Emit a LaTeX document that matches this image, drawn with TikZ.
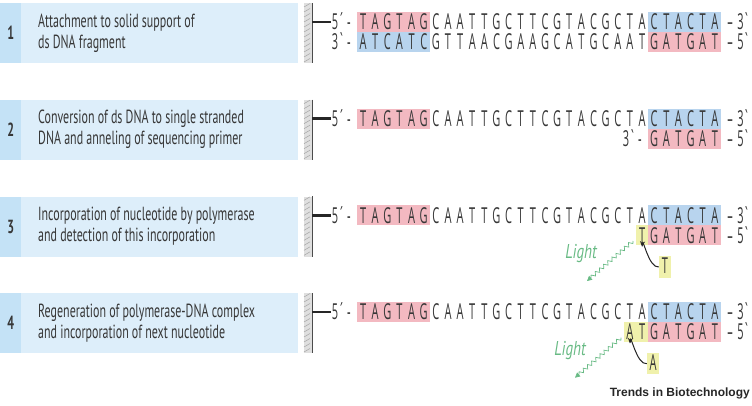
\documentclass[tikz,border=0pt]{standalone}
\usepackage{fontspec}
\setmainfont{Open Sans}
\newfontfamily\txtfont[FakeStretch=0.63]{PT Sans}
\newfontfamily\lightfont[FakeStretch=0.75]{PT Sans}
\newfontfamily\seqfont[FakeStretch=0.5]{Open Sans}
\newfontfamily\logofont{Liberation Sans}
\usetikzlibrary{arrows.meta,decorations.pathmorphing,calc}
\definecolor{panelbg}{RGB}{221,238,250}
\definecolor{numbg}{RGB}{196,226,246}
\definecolor{txtgray}{RGB}{55,55,55}
\definecolor{hlpink}{RGB}{243,185,193}
\definecolor{hlblue}{RGB}{184,212,238}
\definecolor{hlyellow}{RGB}{240,241,172}
\definecolor{lightgreen}{RGB}{104,186,132}
\tikzset{
  sq/.style={inner sep=0pt, text height=15.6pt, text depth=0pt, anchor=center,
    font=\seqfont\fontsize{22}{22}\selectfont, text=txtgray},
  panel/.style={fill=panelbg, inner sep=0pt, minimum width=298pt, minimum height=60pt, anchor=north west},
  numcol/.style={fill=numbg, inner sep=0pt, minimum width=21pt, minimum height=60pt, anchor=north west},
  numtxt/.style={font=\txtfont\bfseries\fontsize{19}{19}\selectfont, text=txtgray},
  desc/.style={anchor=west, align=left, inner sep=0pt, text=txtgray,
    font=\txtfont\fontsize{19}{21}\selectfont},
  wallnode/.style={fill=gray!25, inner sep=0pt, minimum width=8pt, minimum height=60pt, anchor=north west},
  stub/.style={line width=2.4pt, black!85},
  freebase/.style={sq, fill=hlyellow, minimum width=12pt, text depth=2.5pt, inner ysep=1.5pt},
  wave/.style={lightgreen, line width=0.7pt, decorate,
    decoration={snake, amplitude=1.8pt, segment length=5.5pt, post length=4pt},
    -{Triangle[length=5pt,width=5pt]}},
  lighttxt/.style={text=lightgreen, font=\lightfont\itshape\fontsize{20}{20}\selectfont, inner sep=0pt},
  bendarrow/.style={black!85, line width=1pt, -{Stealth[length=5.5pt,width=5pt]}},
}
\newcommand\strand[4]{\foreach \ltr [count=\i from #3] in {#4} {\node[sq] (#1\i) at ({357+12.13*(\i+0.5)},#2) {\ltr};}}
\newcommand\hlbox[4]{\fill[#1] ({357+12.13*#2},#4-10) rectangle ({357+12.13*(#3+1)},#4+10);}
\newcommand\gravemark{\reflectbox{´}}
\begin{document}
\begin{tikzpicture}[x=1pt,y=-1pt]
\useasboundingbox (0,0) rectangle (752,405);
% ---------- left panels ----------
\foreach \r/\t/\la/\lb in {1/3/{Attachment to solid support of}/{ds DNA fragment},
  2/99.67/{Conversion of ds DNA to single stranded}/{DNA and anneling of sequencing primer},
  3/196.33/{Incorporation of nucleotide by polymerase}/{and detection of this incorporation},
  4/293/{Regeneration of polymerase-DNA complex}/{and incorporation of next nucleotide}} {
  \node[panel] (p\r) at (0,\t) {};
  \node[numcol] (c\r) at (0,\t) {};
  \node[numtxt] (n\r) at (c\r.center) {\r};
  \node[desc] (d\r) at (38,\t+30) {\la\\\lb};
  % wall
  \node[wallnode] (w\r) at (304,\t) {};
  \draw[black!70, line width=1.4pt] (w\r.north east) -- (w\r.south east);
  \foreach \k in {0,...,11} {\draw[gray!75, line width=0.45pt] (304,\t+4+5*\k) -- (310,\t+0.5+5*\k);}
}
% ---------- row 1 ----------
\hlbox{hlpink}{0}{5}{22}
\hlbox{hlblue}{24}{29}{22}
\hlbox{hlblue}{0}{5}{42}
\hlbox{hlpink}{24}{29}{42}
\strand{ra}{22}{0}{T,A,G,T,A,G,C,A,A,T,T,G,C,T,T,C,G,T,A,C,G,C,T,A,C,T,A,C,T,A}
\strand{rb}{42}{0}{A,T,C,A,T,C,G,T,T,A,A,C,G,A,A,G,C,A,T,G,C,A,A,T,G,A,T,G,A,T}
\node[sq] (ra5) at (335,22) {5}; \node[sq] at (341.5,22) {´}; \node[sq] at (349,22) {-};
\node[sq] (rb3) at (335,42) {3}; \node[sq] at (341.5,42) {\gravemark}; \node[sq] at (349,42) {-};
\node[sq] at (730,22) {–}; \node[sq] at (740.5,22) {3}; \node[sq] at (746.5,22) {\gravemark};
\node[sq] at (730,42) {–}; \node[sq] at (740.5,42) {5}; \node[sq] at (746.5,42) {\gravemark};
\draw[stub] (w1.east |- ra5.west) -- ([xshift=-1pt]ra5.west);
% ---------- row 2 ----------
\hlbox{hlpink}{0}{5}{118.67}
\hlbox{hlblue}{24}{29}{118.67}
\hlbox{hlpink}{24}{29}{138.67}
\strand{sa}{118.67}{0}{T,A,G,T,A,G,C,A,A,T,T,G,C,T,T,C,G,T,A,C,G,C,T,A,C,T,A,C,T,A}
\strand{sb}{138.67}{24}{G,A,T,G,A,T}
\node[sq] (sa5) at (335,118.67) {5}; \node[sq] at (341.5,118.67) {´}; \node[sq] at (349,118.67) {-};
\node[sq] at (626,138.67) {3}; \node[sq] at (632.5,138.67) {\gravemark}; \node[sq] at (640,138.67) {-};
\node[sq] at (730,118.67) {–}; \node[sq] at (740.5,118.67) {3}; \node[sq] at (746.5,118.67) {\gravemark};
\node[sq] at (730,138.67) {–}; \node[sq] at (740.5,138.67) {5}; \node[sq] at (746.5,138.67) {\gravemark};
\draw[stub] (w2.east |- sa5.west) -- ([xshift=-1pt]sa5.west);
% ---------- row 3 ----------
\hlbox{hlpink}{0}{5}{215.33}
\hlbox{hlblue}{24}{29}{215.33}
\hlbox{hlyellow}{23}{23}{235.33}
\hlbox{hlpink}{24}{29}{235.33}
\strand{ta}{215.33}{0}{T,A,G,T,A,G,C,A,A,T,T,G,C,T,T,C,G,T,A,C,G,C,T,A,C,T,A,C,T,A}
\strand{tb}{235.33}{23}{T,G,A,T,G,A,T}
\node[sq] (ta5) at (335,215.33) {5}; \node[sq] at (341.5,215.33) {´}; \node[sq] at (349,215.33) {-};
\node[sq] at (730,215.33) {–}; \node[sq] at (740.5,215.33) {3}; \node[sq] at (746.5,215.33) {\gravemark};
\node[sq] at (730,235.33) {–}; \node[sq] at (740.5,235.33) {5}; \node[sq] at (746.5,235.33) {\gravemark};
\draw[stub] (w3.east |- ta5.west) -- ([xshift=-1pt]ta5.west);
\node[freebase] (tfree) at (665,267) {T};
\draw[bendarrow] (tfree.west) to[out=188,in=85] ([yshift=-3.5pt]tb23.south);
\coordinate (tw0) at (633,241);
\coordinate (tw1) at (587,281);
\draw[wave] (tw0) -- (tw1);
\node[lighttxt] (tl) at (581,254) {Light};
% ---------- row 4 ----------
\hlbox{hlpink}{0}{5}{312}
\hlbox{hlblue}{24}{29}{312}
\hlbox{hlyellow}{22}{23}{332}
\hlbox{hlpink}{24}{29}{332}
\strand{ua}{312}{0}{T,A,G,T,A,G,C,A,A,T,T,G,C,T,T,C,G,T,A,C,G,C,T,A,C,T,A,C,T,A}
\strand{ub}{332}{22}{A,T,G,A,T,G,A,T}
\node[sq] (ua5) at (335,312) {5}; \node[sq] at (341.5,312) {´}; \node[sq] at (349,312) {-};
\node[sq] at (730,312) {–}; \node[sq] at (740.5,312) {3}; \node[sq] at (746.5,312) {\gravemark};
\node[sq] at (730,332) {–}; \node[sq] at (740.5,332) {5}; \node[sq] at (746.5,332) {\gravemark};
\draw[stub] (w4.east |- ua5.west) -- ([xshift=-1pt]ua5.west);
\node[freebase] (afree) at (653,363.7) {A};
\draw[bendarrow] (afree.west) to[out=188,in=85] ([yshift=-3.5pt]ub22.south);
\coordinate (uw0) at (621,337.7);
\coordinate (uw1) at (575,377.7);
\draw[wave] (uw0) -- (uw1);
\node[lighttxt] (ul) at (570,350.7) {Light};
% ---------- logo ----------
\node[anchor=east, inner sep=0pt, font=\logofont\bfseries\fontsize{12}{12}\selectfont, text=black!85] (logo) at (750,393) {Trends in Biotechnology};
\end{tikzpicture}
\end{document}
